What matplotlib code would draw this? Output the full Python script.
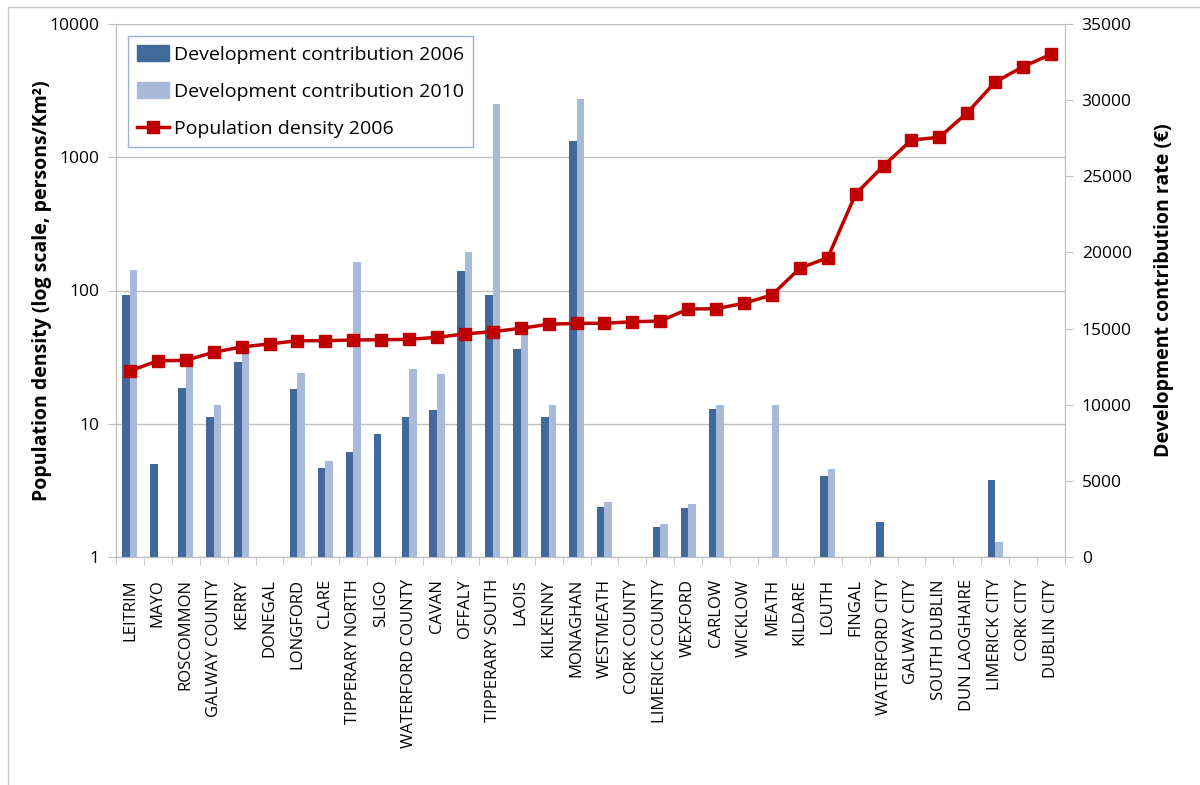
import matplotlib
matplotlib.use("Agg")
import matplotlib.pyplot as plt
from matplotlib.patches import Rectangle
from matplotlib.lines import Line2D
import numpy as np

plt.rcParams['font.family'] = ['Open Sans', 'DejaVu Sans']

categories = ["LEITRIM", "MAYO", "ROSCOMMON", "GALWAY COUNTY", "KERRY", "DONEGAL",
              "LONGFORD", "CLARE", "TIPPERARY NORTH", "SLIGO", "WATERFORD COUNTY",
              "CAVAN", "OFFALY", "TIPPERARY SOUTH", "LAOIS", "KILKENNY", "MONAGHAN",
              "WESTMEATH", "CORK COUNTY", "LIMERICK COUNTY", "WEXFORD", "CARLOW",
              "WICKLOW", "MEATH", "KILDARE", "LOUTH", "FINGAL", "WATERFORD CITY",
              "GALWAY CITY", "SOUTH DUBLIN", "DUN LAOGHAIRE", "LIMERICK CITY",
              "CORK CITY", "DUBLIN CITY"]

contrib_2006 = [17200, 6130, 11080, 9170, 12780, 0,
                11030, 5870, 6890, 8050, 9170,
                9670, 18780, 17200, 13660, 9170, 27340,
                3280, 0, 1990, 3220, 9740,
                0, 0, 0, 5340, 0, 2320,
                0, 0, 0, 5080,
                0, 0]

contrib_2010 = [18850, 0, 12540, 9980, 13960, 0,
                12060, 6300, 19390, 0, 12320,
                11990, 20030, 29730, 14900, 9980, 30050,
                3610, 0, 2170, 3480, 9980,
                0, 9980, 0, 5780, 0, 0,
                0, 0, 0, 960,
                0, 0]

pop_density_2006 = [24.9, 29.7, 29.9, 34.4, 37.7, 39.7,
                    42.0, 42.0, 42.5, 42.7, 43.0,
                    44.5, 47.2, 49.1, 52.0, 55.8, 56.7,
                    56.7, 58.3, 59.0, 72.6, 73.0,
                    80.2, 92.5, 147, 176, 530, 864,
                    1347, 1412, 2160, 3670,
                    4782, 5929]

left_ticks = [1, 10, 100, 1000, 10000]
left_tick_labels = ["1", "10", "100", "1000", "10000"]
right_ticks = [0, 5000, 10000, 15000, 20000, 25000, 30000, 35000]

dark_blue = "#41699C"
light_blue = "#A9BAD8"
red = "#C00000"
grid_gray = "#BFBFBF"
tick_fs = 12.5

fig = plt.figure(figsize=(12, 7.85), dpi=100)

# outer chart border (left and top visible)
fig.lines.append(Line2D([7.5/1200, 7.5/1200], [0, 1 - 6.5/785], transform=fig.transFigure,
                        color="#C8C8C8", linewidth=1.0))
fig.lines.append(Line2D([7.5/1200, 1], [1 - 6.5/785, 1 - 6.5/785], transform=fig.transFigure,
                        color="#C8C8C8", linewidth=1.0))

ax = fig.add_axes([116/1200, 1 - 557/785, (1065 - 116)/1200, (557 - 24)/785])
n = len(categories)
x = np.arange(n)

# host: log axis, gridlines
ax.set_yscale('log')
ax.set_ylim(1, 10000)
ax.set_xlim(-0.5, n - 0.5)
ax.set_yticks(left_ticks)
ax.set_yticklabels(left_tick_labels)
ax.yaxis.set_minor_locator(matplotlib.ticker.NullLocator())
ax.grid(axis='y', color=grid_gray, linewidth=1.0)
ax.set_axisbelow(True)
ax.tick_params(axis='y', labelsize=tick_fs, length=6, color=grid_gray, pad=6)
ax.set_ylabel("Population density (log scale, persons/Km²)", fontsize=14,
              fontweight='bold', labelpad=-2)
ax.set_xticks(x)
ax.set_xticklabels(categories, rotation=90, fontsize=12)
ax.tick_params(axis='x', length=0, pad=16)
ax.set_xticks(np.arange(n + 1) - 0.5, minor=True)
ax.tick_params(axis='x', which='minor', length=6, color=grid_gray)
ax.spines['top'].set_visible(False)
for s in ['left', 'bottom', 'right']:
    ax.spines[s].set_color(grid_gray)

# bars on linear right axis
axb = ax.twinx()
w = 0.27
axb.bar(x - w/2, contrib_2006, width=w, color=dark_blue, zorder=2)
axb.bar(x + w/2, contrib_2010, width=w, color=light_blue, zorder=2)
axb.set_ylim(0, 35000)
axb.set_yticks(right_ticks)
axb.tick_params(axis='y', labelsize=tick_fs, length=6, color=grid_gray, pad=6)
axb.set_ylabel("Development contribution rate (€)", fontsize=14,
               fontweight='bold', labelpad=16)
axb.spines['top'].set_visible(False)
for s in ['left', 'bottom', 'right']:
    axb.spines[s].set_color(grid_gray)

# line on log axis, on top
axl = ax.twinx()
axl.set_yscale('log')
axl.set_ylim(1, 10000)
axl.plot(x, pop_density_2006, color=red, linewidth=2.5, marker='s',
         markersize=8.5, markerfacecolor=red, markeredgecolor=red)
axl.set_yticks([])
axl.yaxis.set_minor_locator(matplotlib.ticker.NullLocator())
axl.set_xlim(-0.5, n - 0.5)
for s in axl.spines.values():
    s.set_visible(False)

handles = [Rectangle((0, 0), 1, 1, color=dark_blue),
           Rectangle((0, 0), 1, 1, color=light_blue),
           Line2D([], [], color=red, linewidth=2.5, marker='s', markersize=8.5)]
labels = ["Development contribution 2006", "Development contribution 2010",
          "Population density 2006"]
leg = axl.legend(handles, labels, loc='upper left',
                 bbox_to_anchor=(128/1200, 1 - 36/785), bbox_transform=fig.transFigure,
                 fontsize=14, frameon=True, fancybox=False, borderpad=0.45,
                 labelspacing=0.95, handlelength=1.65, handleheight=0.9,
                 handletextpad=0.25, borderaxespad=0)
leg.get_frame().set_edgecolor("#7F9FCF")
leg.get_frame().set_linewidth(1.0)

fig.savefig("out.png", dpi=100)
